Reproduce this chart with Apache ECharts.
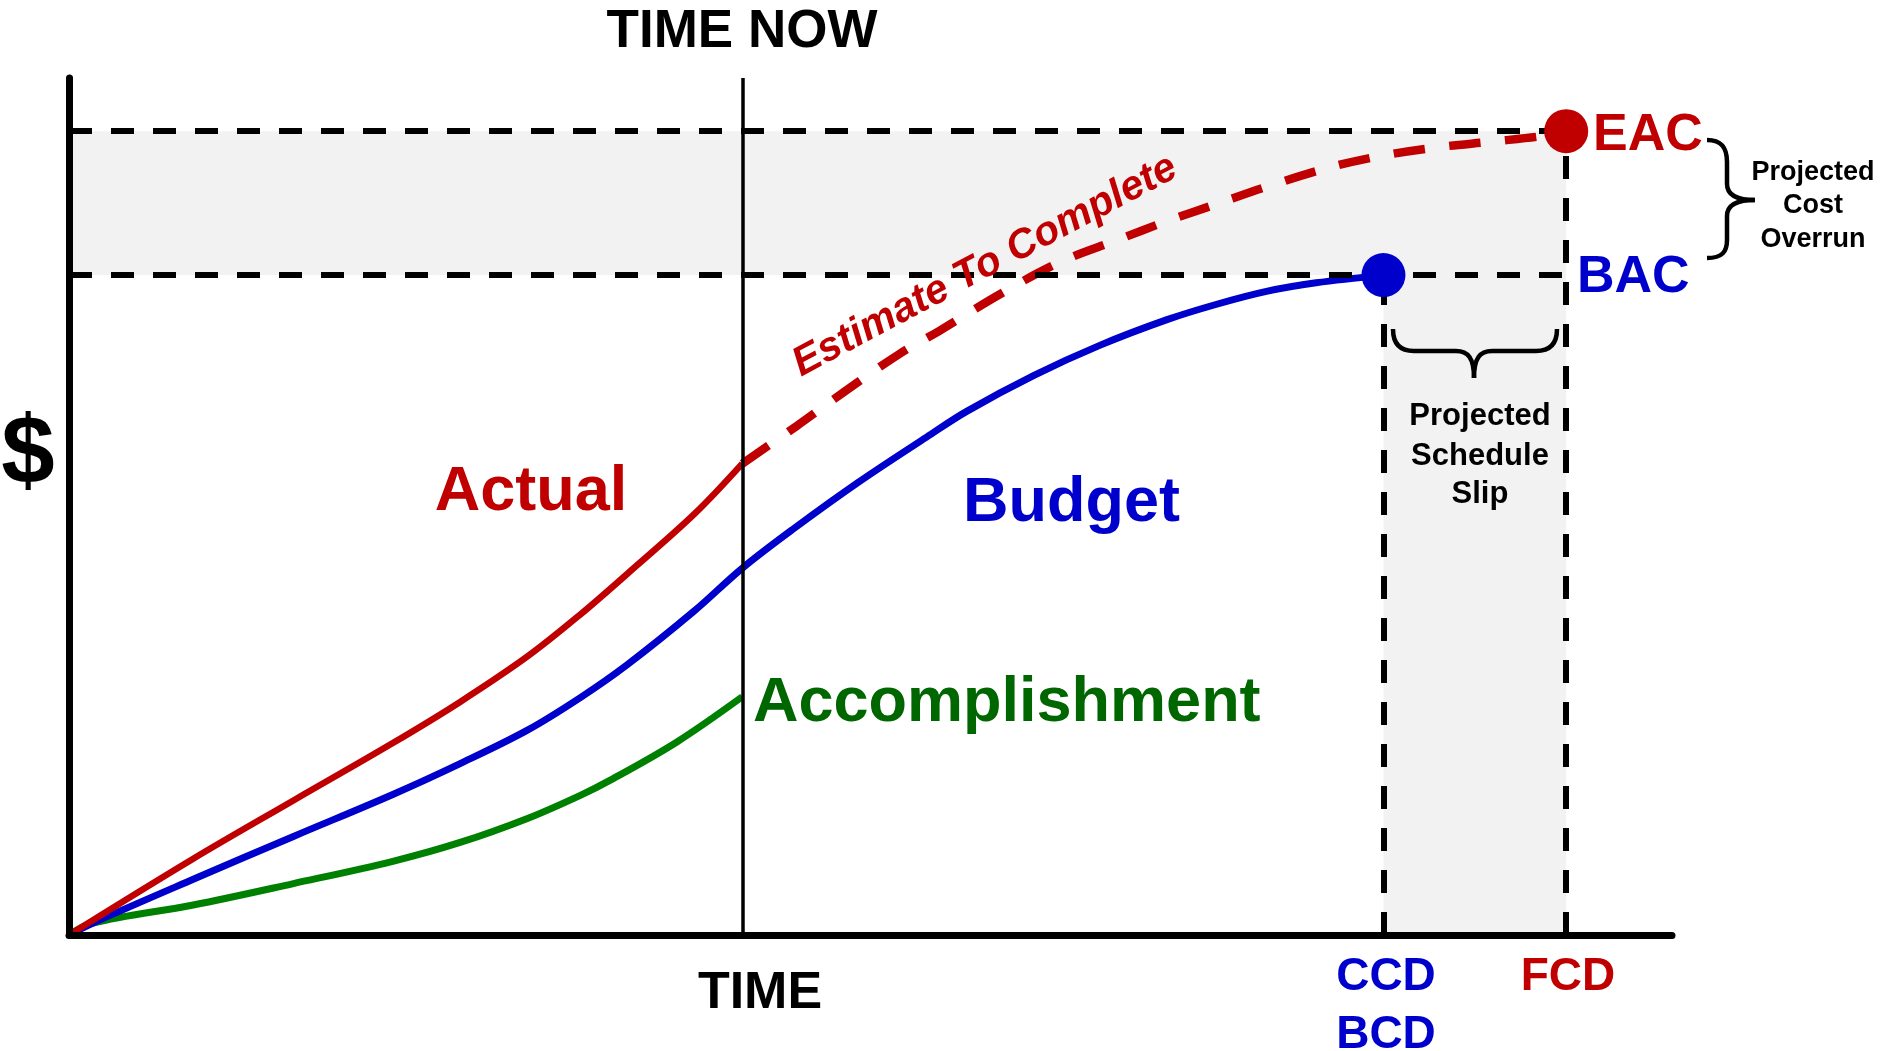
<!DOCTYPE html>
<html>
<head>
<meta charset="utf-8">
<style>
  html, body { margin: 0; padding: 0; background: #fff; }
  #main { width: 1883px; height: 1051px; }
</style>
</head>
<body>
<div id="main"></div>
<script src="https://cdn.jsdelivr.net/npm/echarts@6/dist/echarts.min.js"></script>
<script>
// key dates / amounts (arbitrary units, x: time 0-100, y: $ 0-100)
var timeNow = 42;
var ccd = 82;      // budgeted completion date
var fcd = 93.4;    // forecast completion date
var bac = 77;      // budget at completion
var eac = 93.8;    // estimate at completion

// curves, [time, $]
var actualPts = [[0, 0], [7.75, 8.9], [14, 15.7], [20.2, 22.4], [24.4, 27.2], [28.6, 32.5], [31.9, 37.4], [34.8, 42.1], [39, 49.1], [42, 55]];
var budgetPts = [[0, 0], [1.5, 1.4], [7.75, 6.5], [14, 11.5], [20.2, 16.4], [24.4, 20], [28.6, 23.9], [31.9, 27.7], [34.8, 31.5], [39, 37.8], [42, 42.8], [45.2, 47.4], [49.3, 52.9], [53.5, 58.1], [56, 61.1], [60.2, 65.3], [64.3, 68.8], [68.5, 71.8], [71.6, 73.6], [74.7, 75.1], [77.8, 76.1], [82, 77]];
var accomplishPts = [[0, 0], [1.5, 1.4], [7.75, 3.5], [14, 6], [20.2, 8.6], [24.4, 10.8], [28.6, 13.6], [31.9, 16.3], [33.8, 18.1], [37.9, 22.5], [42, 27.8]];
var etcPts = [[42, 55], [45.4, 59.4], [48.3, 63.3], [51.8, 67.8], [54.3, 70.5], [58.1, 74.8], [61.8, 78.5], [65.4, 81.1], [68.5, 83.3], [71.6, 85.3], [74.7, 87.3], [78.5, 89.5], [81.8, 90.9], [85.3, 91.9], [88.9, 92.6], [92.2, 93.3], [93.4, 93.8]];

var RED = '#c00000', BLUE = '#0000cc', GREEN = '#008000', DKGREEN = '#006600';
var FF = '"Liberation Sans", Arial, sans-serif';

var chart = echarts.init(document.getElementById('main'));

// text placed by its cap-height centre
function txt(x, y, text, size, color, align) {
    return {
        type: 'text', x: x, y: y + size * 0.1, z: 20,
        style: {
            text: text, fill: color,
            font: 'bold ' + size + 'px ' + FF,
            textAlign: align || 'center', textVerticalAlign: 'middle'
        }
    };
}

var braceStyle = { stroke: '#000', lineWidth: 4.5, fill: null };
function curve(x1, y1, c1x, c1y, c2x, c2y, x2, y2) {
    return { type: 'bezierCurve', z: 20, silent: true,
             shape: { x1: x1, y1: y1, cpx1: c1x, cpy1: c1y, cpx2: c2x, cpy2: c2y, x2: x2, y2: y2 },
             style: braceStyle };
}
function seg(x1, y1, x2, y2) {
    return { type: 'line', z: 20, silent: true,
             shape: { x1: x1, y1: y1, x2: x2, y2: y2 }, style: braceStyle };
}

var dashed = { color: '#000', width: 6, type: [23, 19] };

var option = {
    animation: false,
    grid: { left: 69, right: 211, top: 78, bottom: 116 },
    xAxis: {
        type: 'value', min: 0, max: 100, z: 10,
        axisLine: { show: true, lineStyle: { color: '#000', width: 7 } },
        axisTick: { show: false }, axisLabel: { show: false }, splitLine: { show: false }
    },
    yAxis: {
        type: 'value', min: 0, max: 100, z: 10,
        axisLine: { show: true, lineStyle: { color: '#000', width: 7 } },
        axisTick: { show: false }, axisLabel: { show: false }, splitLine: { show: false }
    },
    series: [
        {
            // shaded areas and reference lines
            type: 'line', z: 1, data: [[0, 0]], showSymbol: false, silent: true,
            lineStyle: { opacity: 0 },
            markArea: {
                silent: true,
                itemStyle: { color: '#f2f2f2' },
                data: [
                    [{ coord: [0, bac] }, { coord: [fcd, eac] }],
                    [{ coord: [ccd, 0] }, { coord: [fcd, bac] }]
                ]
            },
            markLine: {
                silent: true, symbol: ['none', 'none'], label: { show: false },
                lineStyle: dashed,
                data: [
                    [{ coord: [0, eac] }, { coord: [fcd, eac] }],
                    [{ coord: [0, bac] }, { coord: [fcd, bac] }],
                    [{ coord: [ccd, 0] }, { coord: [ccd, bac] }],
                    [{ coord: [fcd, 0] }, { coord: [fcd, eac] }],
                    [{ coord: [timeNow, 0], lineStyle: { type: 'solid', width: 3.5, color: '#000' } },
                     { coord: [timeNow, 100], lineStyle: { type: 'solid', width: 3.5, color: '#000' } }]
                ]
            }
        },
        { name: 'Accomplishment', type: 'line', z: 3, data: accomplishPts, smooth: 0.35,
          showSymbol: false, lineStyle: { color: GREEN, width: 7 } },
        { name: 'Budget', type: 'line', z: 3, data: budgetPts, smooth: 0.35,
          showSymbol: false, lineStyle: { color: BLUE, width: 7 } },
        { name: 'Actual', type: 'line', z: 3, data: actualPts, smooth: 0.35,
          showSymbol: false, lineStyle: { color: RED, width: 6.5 } },
        { name: 'Estimate To Complete', type: 'line', z: 3, data: etcPts, smooth: 0.35,
          showSymbol: false, lineStyle: { color: RED, width: 8.5, type: [32, 24] } },
        { type: 'scatter', z: 5, symbolSize: 44, data: [
            { value: [ccd, bac], itemStyle: { color: BLUE, opacity: 1 } },
            { value: [fcd, eac], itemStyle: { color: RED, opacity: 1 } }
        ] }
    ],
    graphic: [
        txt(742, 27, 'TIME NOW', 53, '#000'),
        txt(28, 447, '$', 96, '#000'),
        txt(760, 988, 'TIME', 52, '#000'),
        txt(531, 486, 'Actual', 63, RED),
        txt(963, 497, 'Budget', 63, BLUE, 'left'),
        txt(753, 697, 'Accomplishment', 63, DKGREEN, 'left'),
        txt(1593, 130, 'EAC', 52, RED, 'left'),
        txt(1577, 272, 'BAC', 52, BLUE, 'left'),
        txt(1386, 973, 'CCD', 46, BLUE),
        txt(1386, 1031, 'BCD', 46, BLUE),
        txt(1568, 973, 'FCD', 46, RED),
        txt(1813, 170, 'Projected', 27, '#000'),
        txt(1813, 203, 'Cost', 27, '#000'),
        txt(1813, 237, 'Overrun', 27, '#000'),
        txt(1480, 413, 'Projected', 31, '#000'),
        txt(1480, 453, 'Schedule', 31, '#000'),
        txt(1480, 491, 'Slip', 31, '#000'),
        {
            type: 'text', x: 985, y: 266, rotation: 28 * Math.PI / 180, z: 20,
            style: {
                text: 'Estimate To Complete', fill: RED,
                font: 'italic bold 41px ' + FF,
                textAlign: 'center', textVerticalAlign: 'middle'
            }
        },
        // cost overrun brace
        curve(1707, 140, 1722, 140, 1727, 148, 1727, 162),
        seg(1727, 162, 1727, 184),
        curve(1727, 184, 1727, 195, 1736, 200, 1755, 200),
        curve(1755, 200, 1736, 200, 1727, 205, 1727, 216),
        seg(1727, 216, 1727, 240),
        curve(1727, 240, 1727, 252, 1722, 258, 1707, 258),
        // schedule slip brace
        curve(1393, 329, 1393, 344, 1400, 351, 1414, 351),
        seg(1414, 351, 1456, 351),
        curve(1456, 351, 1468, 351, 1474, 358, 1474, 378),
        curve(1474, 378, 1474, 358, 1480, 351, 1492, 351),
        seg(1492, 351, 1536, 351),
        curve(1536, 351, 1550, 351, 1557, 344, 1557, 329)
    ]
};

chart.setOption(option);
</script>
</body>
</html>
